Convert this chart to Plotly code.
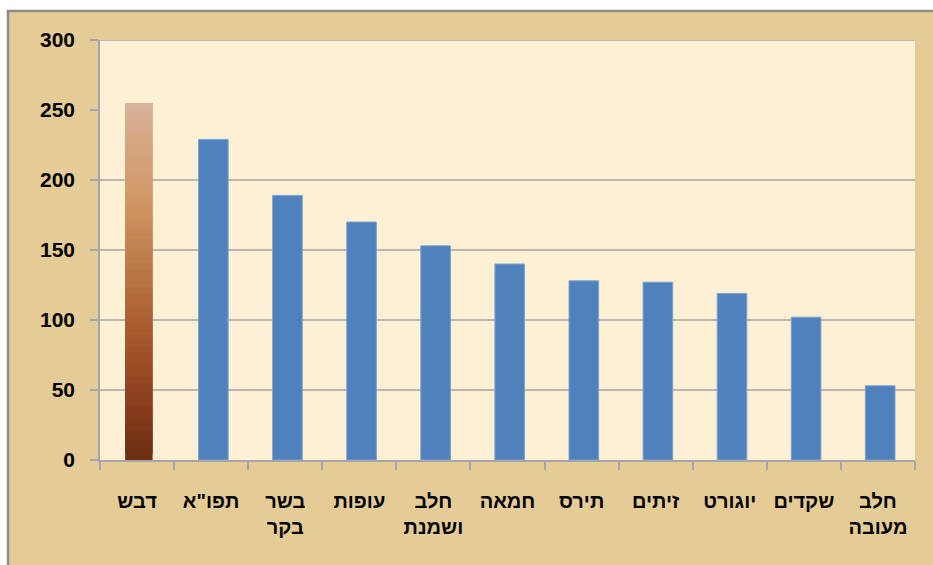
import plotly.graph_objects as go

categories = ["דבש", "תפו\"א", "בשר<br>בקר", "עופות", "חלב<br>ושמנת", "חמאה",
              "תירס", "זיתים", "יוגורט", "שקדים", "חלב<br>מעובה"]
values = [255, 229, 189, 170, 153, 140, 128, 127, 119, 102, 53]
y_ticks = [0, 50, 100, 150, 200, 250, 300]
grid_values = [50, 100, 150, 200, 300]
honey_gradient = ["#D8B39B", "#D5A47E", "#D29A6A", "#C58855", "#B87244",
                  "#A95C30", "#9A4A24", "#83391A", "#6B2E12"]

W, H = 933, 565
ML, MR, MT, MB = 100, 18, 40, 105
pw, ph = W - ML - MR, H - MT - MB

fig = go.Figure()

# blue bars (all except the highlighted first one)
fig.add_trace(go.Bar(
    x=categories[1:], y=values[1:],
    marker=dict(color="#4F81BD", line=dict(color="#7FA3D0", width=1)),
    width=0.4, offset=-0.17, hoverinfo="x+y"))

# highlighted honey bar with vertical gradient built from stacked slices
n = 60
def lerp_color(t):
    stops = honey_gradient
    pos = t * (len(stops) - 1)
    i = min(int(pos), len(stops) - 2)
    f = pos - i
    c1 = [int(stops[i][k:k + 2], 16) for k in (1, 3, 5)]
    c2 = [int(stops[i + 1][k:k + 2], 16) for k in (1, 3, 5)]
    c = [round(a + (b - a) * f) for a, b in zip(c1, c2)]
    return "rgb(%d,%d,%d)" % tuple(c)

seg = values[0] / n
heights = [seg * 2 if i < n - 1 else seg for i in range(n)]
fig.add_trace(go.Bar(
    x=[categories[0]] * n,
    y=heights,
    base=[seg * i for i in range(n)],
    marker=dict(color=[lerp_color(1 - (i + 0.5) / n) for i in range(n)],
                line=dict(width=0)),
    width=0.37, offset=-0.16, hoverinfo="skip"))

# outer framed background
fig.add_shape(type="rect", xref="paper", yref="paper",
              x0=(8 - ML) / pw, x1=(W + 20 - ML) / pw,
              y0=(H - MB - (H + 20)) / ph, y1=(H - MB - 11) / ph,
              fillcolor="#E5CC97", line=dict(color="#8C8C8C", width=2.5),
              layer="below")
# plot area background
fig.add_shape(type="rect", xref="paper", yref="paper", x0=0, x1=1, y0=0, y1=1,
              fillcolor="#FDF0D4", line=dict(width=0), layer="below")

for g in grid_values:
    fig.add_shape(type="line", xref="paper", yref="y", x0=0, x1=1, y0=g, y1=g,
                  line=dict(color="#A6A6A6", width=1.5), layer="below")

fig.update_layout(
    width=W, height=H,
    margin=dict(l=ML, r=MR, t=MT, b=MB),
    paper_bgcolor="white",
    plot_bgcolor="rgba(0,0,0,0)",
    barmode="overlay",
    showlegend=False,
    font=dict(family="Liberation Sans, DejaVu Sans", color="black"),
)
fig.update_xaxes(
    type="category", categoryorder="array", categoryarray=categories,
    showline=True, linecolor="#A6A6A6", linewidth=1.5,
    ticks="outside", tickson="boundaries", ticklen=8, tickcolor="#A6A6A6",
    tickwidth=1.5, showgrid=False,
    tickfont=dict(size=20, family="Liberation Sans, DejaVu Sans", weight="bold"),
    ticklabelstandoff=22,
)
fig.update_yaxes(
    range=[0, 300], tickvals=y_ticks, showgrid=False, zeroline=False,
    showline=True, linecolor="#A6A6A6", linewidth=1.5,
    ticks="outside", ticklen=8, tickcolor="#A6A6A6", tickwidth=1.5,
    tickfont=dict(size=21, family="Liberation Sans, DejaVu Sans", weight="bold"),
    ticklabelstandoff=11,
)

fig.write_html("out.html", config={"displayModeBar": False},
               post_script="document.body.style.margin='0';document.body.style.overflow='hidden';")
